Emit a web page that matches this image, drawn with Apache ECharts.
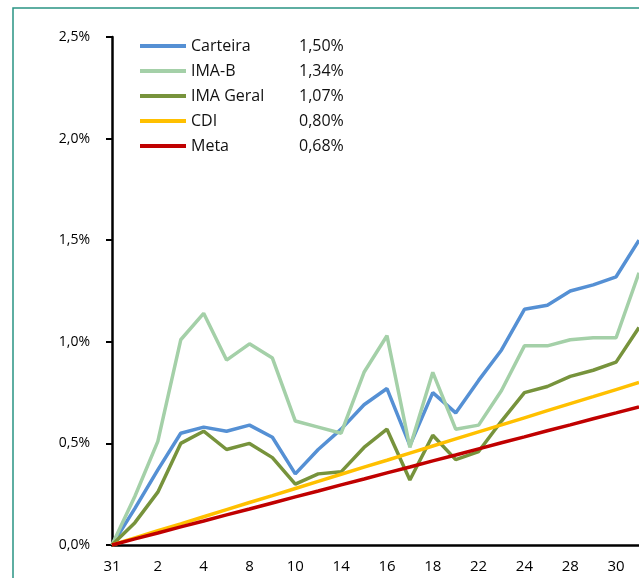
<!DOCTYPE html>
<html>
<head>
<meta charset="utf-8">
<script src="https://cdn.jsdelivr.net/npm/echarts@6/dist/echarts.min.js"></script>
<style>
  html, body { margin: 0; padding: 0; background: #fff; }
  #chart { width: 639px; height: 578px; }
</style>
</head>
<body>
<div id="chart"></div>
<script>
// dias úteis do mês (começa no último dia do mês anterior)
const days = ['31', '1', '2', '3', '4', '7', '8', '9', '10', '11', '14', '15', '16', '17', '18', '21', '22', '23', '24', '25', '28', '29', '30', '31']

// rentabilidade acumulada (%)
const carteira = [0, 0.18, 0.37, 0.55, 0.58, 0.56, 0.59, 0.53, 0.35, 0.47, 0.57, 0.69, 0.77, 0.49, 0.75, 0.65, 0.81, 0.96, 1.16, 1.18, 1.25, 1.28, 1.32, 1.50]
const imaB = [0, 0.24, 0.51, 1.01, 1.14, 0.91, 0.99, 0.92, 0.61, 0.58, 0.55, 0.85, 1.03, 0.48, 0.85, 0.57, 0.59, 0.76, 0.98, 0.98, 1.01, 1.02, 1.02, 1.34]
const imaGeral = [0, 0.11, 0.26, 0.50, 0.56, 0.47, 0.50, 0.43, 0.30, 0.35, 0.36, 0.48, 0.57, 0.32, 0.54, 0.42, 0.46, 0.61, 0.75, 0.78, 0.83, 0.86, 0.90, 1.07]
const cdi = [0, 0.035, 0.07, 0.104, 0.139, 0.174, 0.209, 0.243, 0.278, 0.313, 0.348, 0.383, 0.417, 0.452, 0.487, 0.522, 0.557, 0.591, 0.626, 0.661, 0.696, 0.73, 0.765, 0.80]
const meta = [0, 0.03, 0.059, 0.089, 0.118, 0.148, 0.177, 0.207, 0.237, 0.266, 0.296, 0.325, 0.355, 0.384, 0.414, 0.443, 0.473, 0.503, 0.532, 0.562, 0.591, 0.621, 0.65, 0.68]

const seriesNames = ['Carteira', 'IMA-B', 'IMA Geral', 'CDI', 'Meta']
const legendValues = ['1,50%', '1,34%', '1,07%', '0,80%', '0,68%']
const colors = ['#5590d4', '#a4d0a8', '#77933c', '#ffc000', '#c00000']

const chart = echarts.init(document.getElementById('chart'))
const font = '"Open Sans", "Noto Sans", sans-serif'

const allData = [carteira, imaB, imaGeral, cdi, meta]

const option = {
  animation: false,
  textStyle: { fontFamily: font },
  graphic: [{
    type: 'rect',
    shape: { x: 13, y: 8, width: 800, height: 800 },
    style: { fill: 'none', stroke: '#2a9484', lineWidth: 1.5 },
    z: -1
  }],
  grid: { left: 112, right: -2, top: 37, bottom: 33, containLabel: false },
  legend: {
    orient: 'vertical',
    left: 135,
    top: 33,
    itemWidth: 46,
    itemHeight: 4,
    itemGap: 9,
    icon: 'rect',
    data: seriesNames,
    formatter: (name) => {
      const i = seriesNames.indexOf(name)
      return '{n|' + name + '}{v|' + legendValues[i] + '}'
    },
    textStyle: {
      fontFamily: font,
      rich: {
        n: { fontSize: 16, color: '#111', width: 108, fontFamily: font, lineHeight: 17 },
        v: { fontSize: 16, color: '#111', fontFamily: font, lineHeight: 17 }
      }
    }
  },
  xAxis: {
    type: 'category',
    data: days,
    boundaryGap: false,
    axisLine: { lineStyle: { color: '#000', width: 2.5 } },
    axisTick: { show: false },
    axisLabel: {
      interval: 1,
      color: '#000',
      fontSize: 15,
      margin: 14,
      fontFamily: font
    }
  },
  yAxis: {
    type: 'value',
    min: 0,
    max: 2.5,
    interval: 0.5,
    splitLine: { show: false },
    axisLine: { show: true, lineStyle: { color: '#000', width: 2.5 } },
    axisTick: { show: true, length: 6, lineStyle: { color: '#000', width: 2 } },
    axisLabel: {
      color: '#000',
      fontSize: 14,
      margin: 22,
      fontFamily: font,
      formatter: (v) => v.toFixed(1).replace('.', ',') + '%'
    }
  },
  series: seriesNames.map((name, i) => ({
    name: name,
    type: 'line',
    data: allData[i],
    symbol: 'none',
    color: colors[i],
    lineStyle: { width: 3.5, color: colors[i] }
  }))
}

chart.setOption(option)
</script>
</body>
</html>
